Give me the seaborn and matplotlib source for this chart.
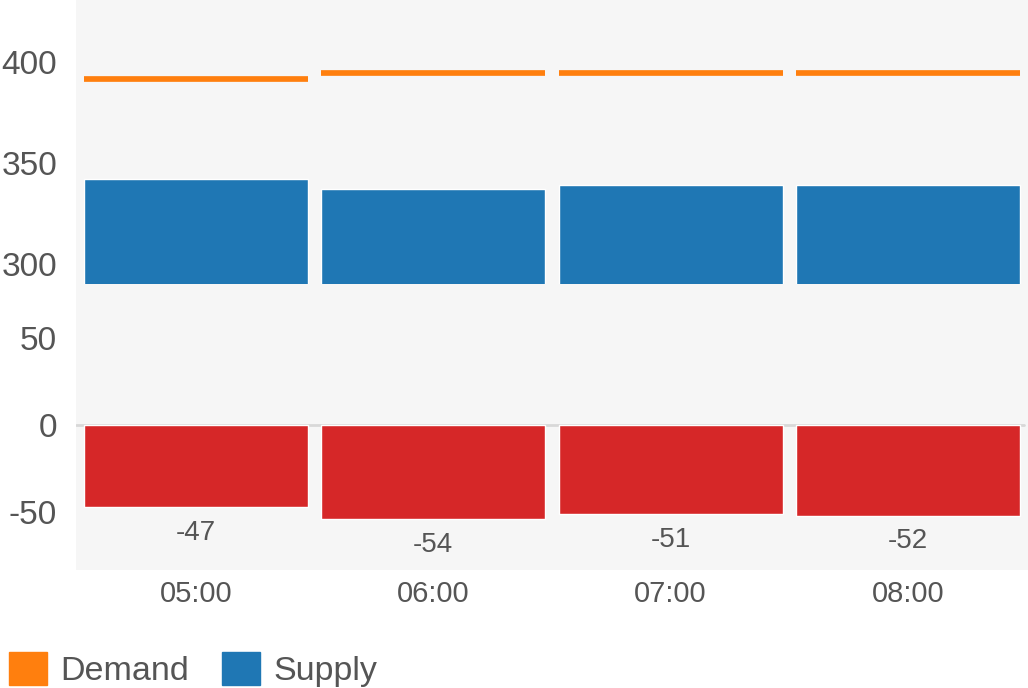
import matplotlib.pyplot as plt
import numpy as np
import seaborn as sns
from matplotlib.patches import Patch

times = ['05:00', '06:00', '07:00', '08:00']
supply = [342, 337, 339, 339]
demand = [392, 395, 395, 395]
balance = [-47, -54, -51, -52]

sns.set_style('white')
plt.rcParams['font.family'] = ['Liberation Sans', 'DejaVu Sans']
plt.rcParams['axes.unicode_minus'] = False

text_color = '#555555'
bg = '#f6f6f6'
bar_w = 0.944

fig = plt.figure(figsize=(10.28, 6.88), dpi=100)
ax_top = fig.add_axes([76 / 1028, 1 - 284 / 688, 952 / 1028, 284 / 688])
ax_low = fig.add_axes([76 / 1028, 1 - 570 / 688, 952 / 1028, 286 / 688])

# upper part: supply bars and demand lines
sns.barplot(x=times, y=supply, color='#1f77b4', saturation=1, width=bar_w, ax=ax_top)
pos = np.arange(len(times))
ax_top.hlines(demand, pos - bar_w / 2, pos + bar_w / 2, colors='#ff7f0e', lw=4.1)
ax_top.set_ylim(290, 431)
ax_top.set_yticks([300, 350, 400])
ax_top.set_xticks([])

# lower part: balance bars
ax_low.axhline(0, xmax=0.996, color='#d8d8d8', lw=2, zorder=0)
sns.barplot(x=times, y=balance, color='#d62728', saturation=1, width=bar_w, ax=ax_low)
ax_low.set_ylim(-83, 81)
ax_low.set_yticks([-50, 0, 50])
for c in ax_low.containers:
    ax_low.bar_label(c, padding=9, fontsize=20, color=text_color)

for ax in (ax_top, ax_low):
    ax.set_facecolor(bg)
    ax.set_xlim(-0.506, len(times) - 0.494)
    ax.set_xlabel('')
    ax.set_ylabel('')
    sns.despine(ax=ax, left=True, bottom=True)
    ax.tick_params(axis='y', length=0, pad=13.5, labelsize=24, labelcolor=text_color)
    ax.tick_params(axis='x', length=0, pad=7, labelsize=21, labelcolor=text_color)

handles = [Patch(color='#ff7f0e', label='Demand'), Patch(color='#1f77b4', label='Supply')]
fig.legend(handles=handles, loc='lower left', bbox_to_anchor=(9 / 1028, 1 / 688), ncol=2,
           frameon=False, fontsize=24.5, labelcolor=text_color, handlelength=1.12,
           handleheight=1.12, handletextpad=0.4, columnspacing=0.95, borderpad=0,
           borderaxespad=0)

fig.savefig('out.png', dpi=100)
